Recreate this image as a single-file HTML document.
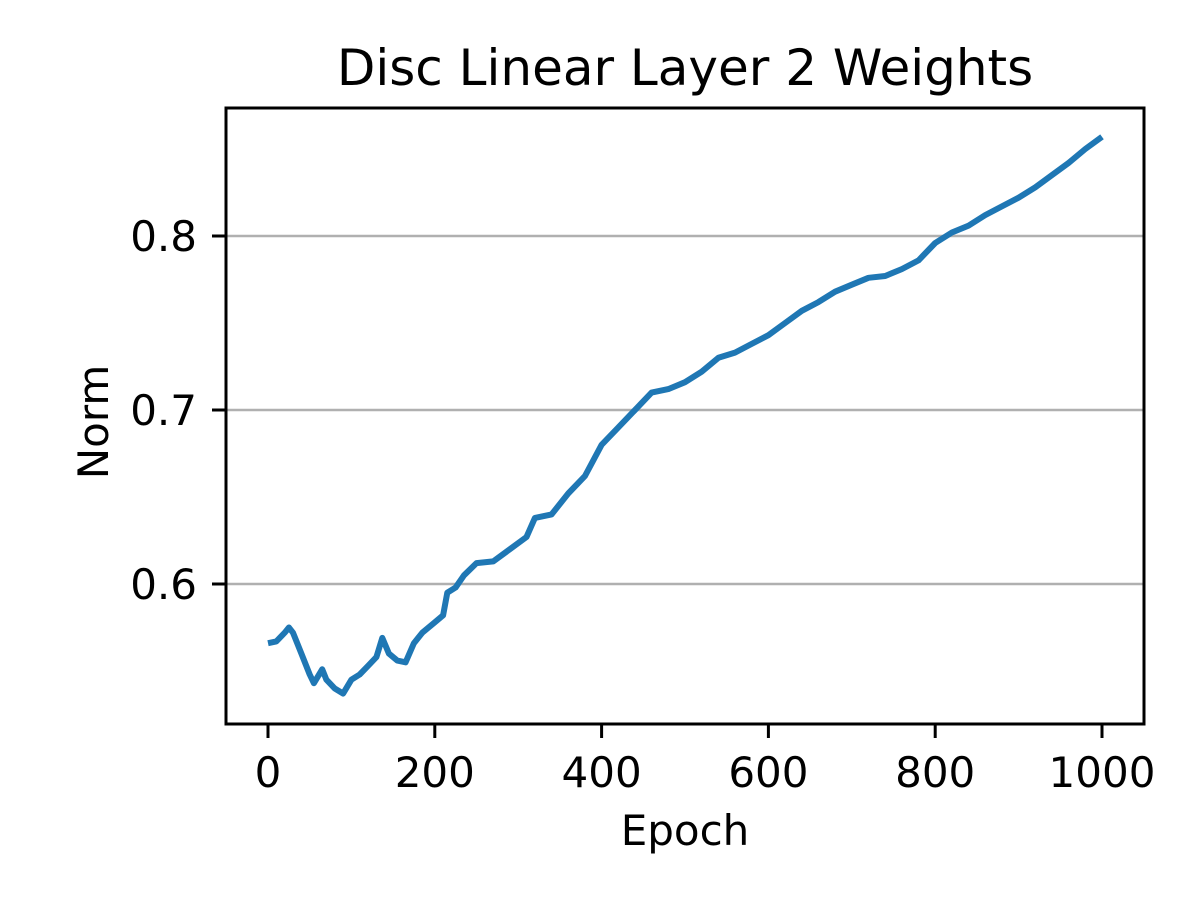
<!DOCTYPE html>
<html><head><meta charset="utf-8"><style>
body{margin:0;background:#fff}
text{font-family:"DejaVu Sans","Liberation Sans",sans-serif;fill:#000}
</style></head><body>
<svg id="chart" width="1200" height="900" xmlns="http://www.w3.org/2000/svg">
<rect width="1200" height="900" fill="#fff"/>
<text x="685" y="85" font-size="50" text-anchor="middle">Disc Linear Layer 2 Weights</text>
<g id="grid"></g>
<g id="ticks"></g>
<path id="line" fill="none" stroke="#1f77b4" stroke-width="6" stroke-linejoin="round"/>
<rect x="226" y="108" width="918" height="616" fill="none" stroke="#000" stroke-width="3"/>
<text x="685" y="845" font-size="42" text-anchor="middle">Epoch</text>
<text transform="translate(108,422) rotate(-90)" font-size="42" text-anchor="middle">Norm</text>
</svg>
<script>
const epochs=[0,10,20,25,30,40,50,55,65,70,80,90,100,110,120,130,137,145,155,165,175,185,200,210,215,225,235,250,270,290,310,320,340,360,380,400,420,440,460,480,500,520,540,560,580,600,620,640,660,680,700,720,740,760,780,800,820,840,860,880,900,920,940,960,980,1000];
const norms=[0.566,0.567,0.572,0.575,0.572,0.560,0.548,0.543,0.551,0.545,0.540,0.537,0.545,0.548,0.553,0.558,0.569,0.560,0.556,0.555,0.566,0.572,0.578,0.582,0.595,0.598,0.605,0.612,0.613,0.620,0.627,0.638,0.640,0.652,0.662,0.680,0.690,0.700,0.710,0.712,0.716,0.722,0.730,0.733,0.738,0.743,0.750,0.757,0.762,0.768,0.772,0.776,0.777,0.781,0.786,0.796,0.802,0.806,0.812,0.817,0.822,0.828,0.835,0.842,0.850,0.857];
const xTicks=[0,200,400,600,800,1000];
const yTicks=[0.6,0.7,0.8];
const X=v=>268+v*0.834;
const Y=v=>584-(v-0.6)*1740;
const NS="http://www.w3.org/2000/svg";
const grid=document.getElementById('grid'),ticks=document.getElementById('ticks');
function mk(tag,attrs,parent){const e=document.createElementNS(NS,tag);for(const k in attrs)e.setAttribute(k,attrs[k]);parent.appendChild(e);return e;}
yTicks.forEach(t=>{
 const g=mk('line',{x1:226,x2:1144,y1:Y(t),y2:Y(t),stroke:'#b0b0b0','stroke-width':2.5},grid);
 
 
 mk('line',{x1:212,x2:226,y1:Y(t),y2:Y(t),stroke:'#000','stroke-width':3},ticks);
 const l=mk('text',{x:197,y:Y(t)+15,'font-size':42,'text-anchor':'end'},ticks);
 l.textContent=t.toFixed(1);
 
 
});
xTicks.forEach(t=>{
 mk('line',{x1:X(t),x2:X(t),y1:724,y2:738,stroke:'#000','stroke-width':3},ticks);
 const l=mk('text',{x:X(t),y:787,'font-size':42,'text-anchor':'middle'},ticks);
 l.textContent=t;
 
 
});
document.getElementById('line').setAttribute('d',epochs.map((e,i)=>(i?'L':'M')+X(e).toFixed(1)+','+Y(norms[i]).toFixed(1)).join(''));
</script>
</body></html>
